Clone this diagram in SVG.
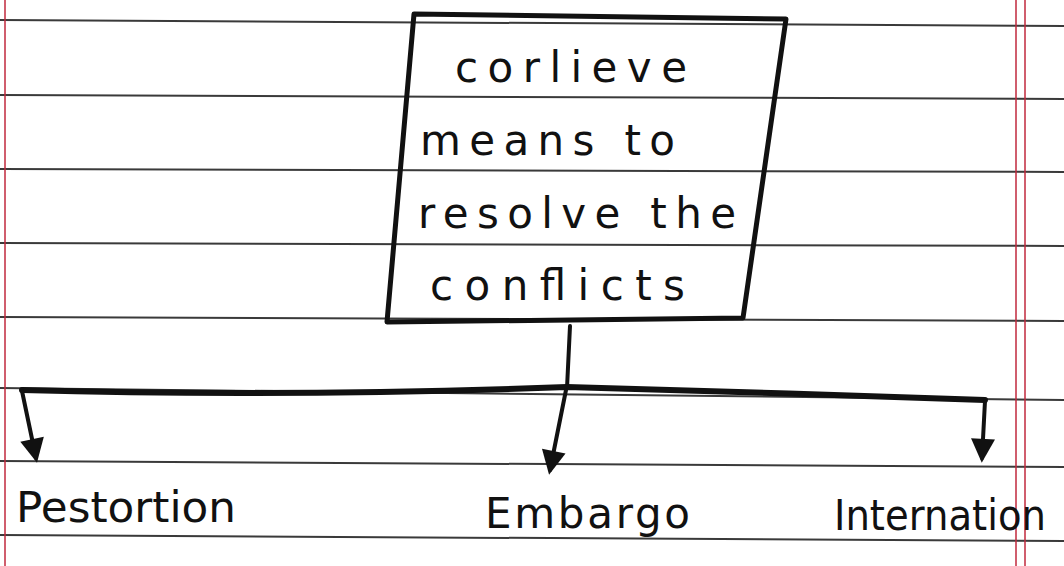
<svg xmlns="http://www.w3.org/2000/svg" width="1064" height="566" viewBox="0 0 1064 566">
<style>
.rule{stroke:#3a3a3a;stroke-width:2;fill:none}
.margin{stroke:#c0283c;stroke-width:1.5;fill:none}
.ink{stroke:#111;stroke-width:4;fill:none;stroke-linecap:round;stroke-linejoin:round}
.bar{stroke:#111;stroke-width:6;fill:none;stroke-linecap:round}
.txt{font-family:"DejaVu Sans",sans-serif;font-size:42px;fill:#111}
.lbl{font-family:"DejaVu Sans",sans-serif;font-size:42px;fill:#111}
</style>
<defs>
<marker id="ah" viewBox="0 0 10 10" refX="8" refY="5" markerWidth="7" markerHeight="6" orient="auto" markerUnits="strokeWidth">
<path d="M0,0 L10,5 L0,10 Z" fill="#111"/>
</marker>
</defs>
<rect width="1064" height="566" fill="#ffffff"/>
<g id="paper">
<path class="rule" d="M0,20 L1064,26"/>
<path class="rule" d="M0,95 L1064,99"/>
<path class="rule" d="M0,169 L1064,172"/>
<path class="rule" d="M0,243 L1064,246"/>
<path class="rule" d="M0,317 L1064,321"/>
<path class="rule" d="M0,388 L1064,400"/>
<path class="rule" d="M0,461 L1064,467"/>
<path class="rule" d="M0,535 L1064,541"/>
<path class="margin" d="M5,0 L5,566"/>
<path class="margin" d="M1016,0 L1016,566"/>
<path class="margin" d="M1025,0 L1025,566"/>
</g>
<g id="connectors">
<path class="ink" d="M570,326 L567,388"/>
<path class="bar" d="M22,390 C200,395 400,393 567,387 C700,390 850,396 985,400"/>
<path class="ink" d="M22,391 L36,458" marker-end="url(#ah)"/>
<path class="ink" d="M566,390 L550,470" marker-end="url(#ah)"/>
<path class="ink" d="M985,401 L982,458" marker-end="url(#ah)"/>
</g>
<g id="root">
<path d="M414,14 L786,19 L743,318 L387,322 Z" fill="none" stroke="#111" stroke-width="5" stroke-linejoin="round"/>
<text class="txt" x="455" y="82" textLength="232" lengthAdjust="spacing">corlieve</text>
<text class="txt" x="420" y="155" textLength="255" lengthAdjust="spacing">means  to</text>
<text class="txt" x="418" y="228" textLength="318" lengthAdjust="spacing">resolve the</text>
<text class="txt" x="430" y="300" textLength="255" lengthAdjust="spacing">conflicts</text>
</g>
<g id="pestortion">
<text class="lbl" x="16" y="522" textLength="220" lengthAdjust="spacingAndGlyphs">Pestortion</text>
</g>
<g id="embargo">
<text class="lbl" x="485" y="528" textLength="205" lengthAdjust="spacing">Embargo</text>
</g>
<g id="internation">
<text class="lbl" x="834" y="530" textLength="212" lengthAdjust="spacingAndGlyphs">Internation</text>
</g>
</svg>
